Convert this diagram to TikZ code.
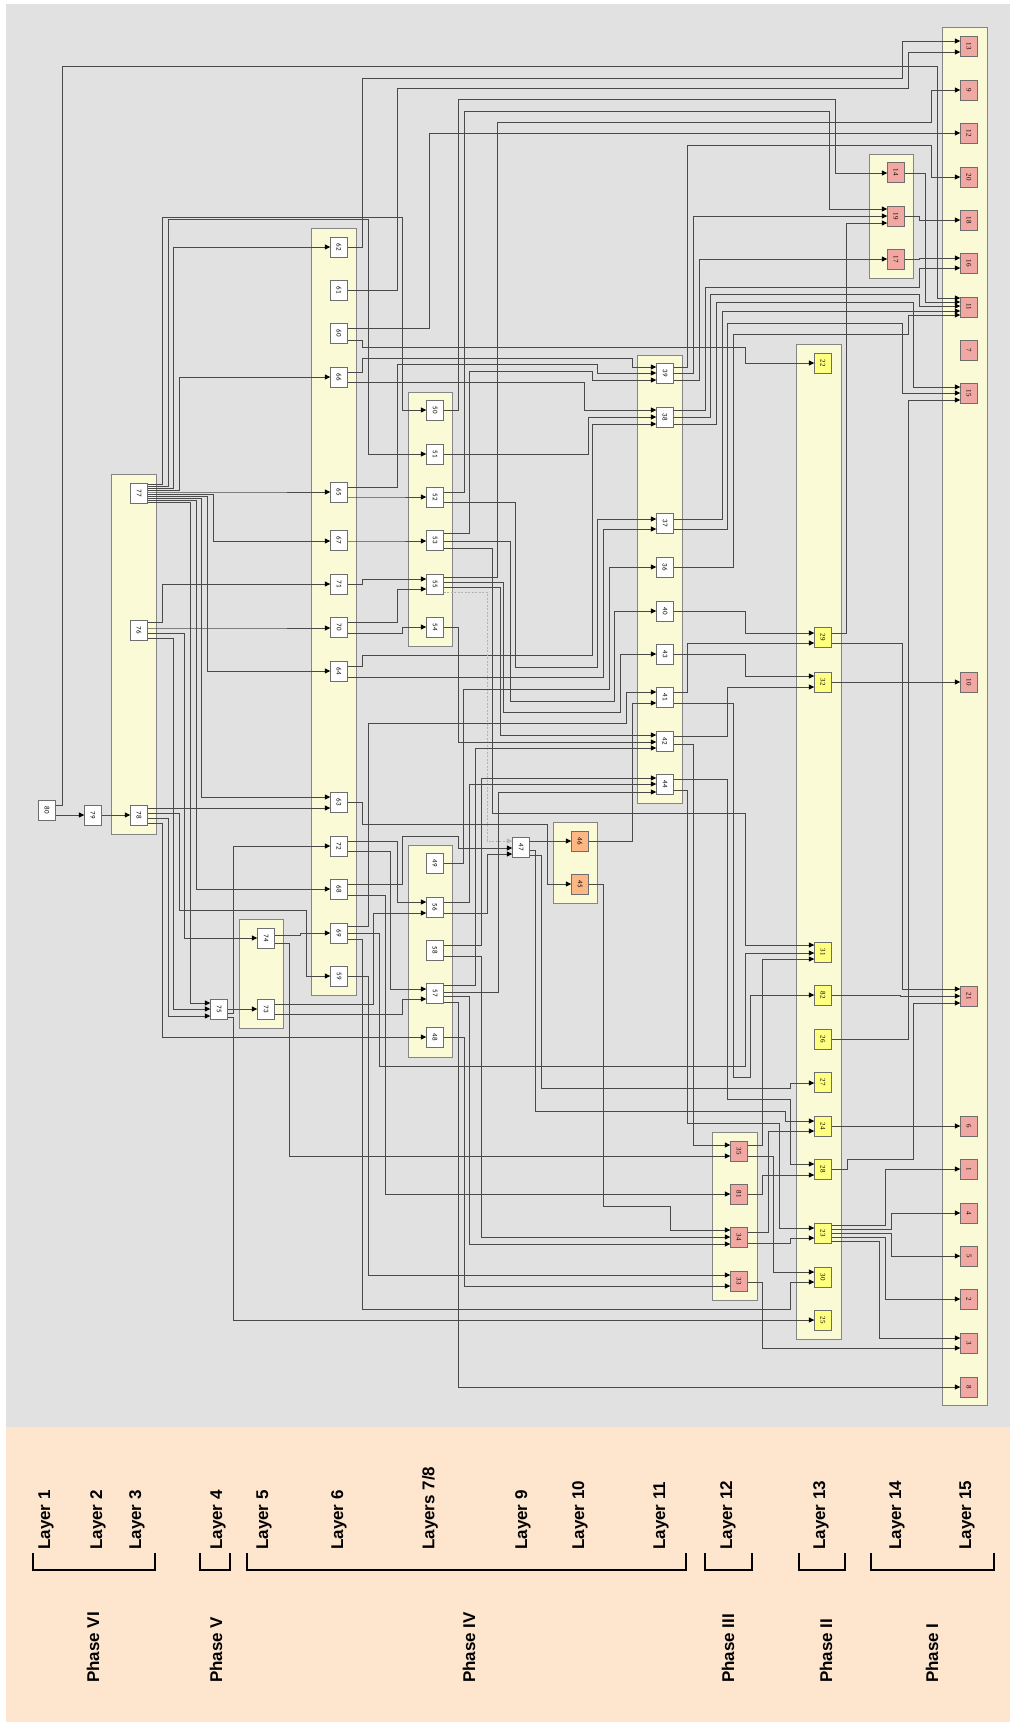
\documentclass[tikz,border=0pt]{standalone}
\usepackage{graphicx}
\usepackage{fontspec}
\setmainfont{Liberation Sans}
\newfontfamily\nodesans{Carlito}
\newfontfamily\nodeserif{Liberation Serif}
\usetikzlibrary{arrows.meta, calc, backgrounds}

\definecolor{canvasgray}{HTML}{E1E1E1}
\definecolor{legendpeach}{HTML}{FDE5CE}
\definecolor{layerfill}{HTML}{FAFAD7}
\definecolor{layerline}{HTML}{858585}
\definecolor{nodeline}{HTML}{6E6E6E}
\definecolor{pinkfill}{HTML}{F2A8A2}
\definecolor{yellowfill}{HTML}{FFFF80}
\definecolor{orangefill}{HTML}{FDB784}
\definecolor{wiregray}{HTML}{4A4A4A}
\definecolor{dashgray}{HTML}{B4B4AA}

% orthogonal connector: [opts]{from}{to}{y out}{y in}{x of the vertical run}
\newcommand\wire[6][]{%
  \draw[wire,#1] let \p1=(#2.east), \p2=(#3.west) in
    (\x1,-#4pt) -- (#6pt,-#4pt) -- (#6pt,-#5pt) -- (\x2,-#5pt);}
% connector with two vertical runs: [opts]{from}{to}{y out}{y in}{x1}{y mid}{x2}
\newcommand\wirex[8][]{%
  \draw[wire,#1] let \p1=(#2.east), \p2=(#3.west) in
    (\x1,-#4pt) -- (#6pt,-#4pt) -- (#6pt,-#7pt) -- (#8pt,-#7pt) -- (#8pt,-#5pt) -- (\x2,-#5pt);}

\begin{document}
\begin{tikzpicture}[x=1pt, y=-1pt,
    wnode/.style={draw=nodeline, fill=white, minimum width=17pt, minimum height=20pt, inner sep=0pt, font=\nodesans\fontsize{7}{7}\selectfont},
    pnode/.style={wnode, fill=pinkfill, font=\nodeserif\fontsize{7}{7}\selectfont},
    ynode/.style={pnode, fill=yellowfill},
    onode/.style={wnode, fill=orangefill},
    layerbox/.style={draw=layerline, fill=layerfill, line width=0.8pt},
    wire/.style={draw=wiregray, line width=0.8pt, -{Triangle[length=5.5pt, width=5pt, color=black]}},
    dashwire/.style={draw=dashgray, dash pattern=on 2pt off 1.5pt, -{Triangle[length=5.5pt, width=5pt, color=dashgray]}},
    layerlbl/.style={rotate=90, anchor=west, inner sep=0pt, font=\bfseries\fontsize{17}{17}\selectfont},
    phasebrk/.style={line width=2.6pt},
]
\useasboundingbox (0,0) rectangle (1010,1722);

\begin{scope}[on background layer]
\fill[white] (0,0) rectangle (1010,1722);
\fill[canvasgray] (6,4) rectangle (1010,1427);
\fill[legendpeach] (6,1427) rectangle (1010,1722);
% layer groups
\draw[layerbox] (111,474) rectangle (156,834);
\draw[layerbox] (239,919) rectangle (283,1028);
\draw[layerbox] (311,228) rectangle (356,995);
\draw[layerbox] (408,392) rectangle (452,646);
\draw[layerbox] (408,845) rectangle (452,1057);
\draw[layerbox] (553,822) rectangle (597,903);
\draw[layerbox] (637,355) rectangle (682,803);
\draw[layerbox] (712,1132) rectangle (757,1300);
\draw[layerbox] (796,344) rectangle (841,1339);
\draw[layerbox] (869,154) rectangle (913,278);
\draw[layerbox] (942,27) rectangle (987,1405);
\end{scope}

% nodes
\node[wnode] (n80) at (47,810) {\rotatebox{-90}{80}};
\node[wnode] (n79) at (93,815) {\rotatebox{-90}{79}};
\foreach \n/\y in {77/493, 76/630, 78/815}
  \node[wnode] (n\n) at (139,\y) {\rotatebox{-90}{\n}};
\node[wnode] (n75) at (219,1009) {\rotatebox{-90}{75}};
\node[wnode] (n74) at (266,938) {\rotatebox{-90}{74}};
\node[wnode] (n73) at (266,1009) {\rotatebox{-90}{73}};
\foreach \n/\y in {62/247, 61/290, 60/333, 66/377, 65/492, 67/540, 71/584, 70/627, 64/671, 63/802, 72/846, 68/889, 69/933, 59/976}
  \node[wnode] (n\n) at (339,\y) {\rotatebox{-90}{\n}};
\foreach \n/\y in {50/410, 51/454, 52/497, 53/540, 55/584, 54/627, 49/863, 56/907, 58/950, 57/993, 48/1037}
  \node[wnode] (n\n) at (435,\y) {\rotatebox{-90}{\n}};
\node[wnode] (n47) at (521,847) {\rotatebox{-90}{47}};
\node[onode] (n46) at (580,841) {\rotatebox{-90}{46}};
\node[onode] (n45) at (580,884) {\rotatebox{-90}{45}};
\foreach \n/\y in {39/373, 38/417, 37/523, 36/567, 40/611, 43/654, 41/697, 42/741, 44/784}
  \node[wnode] (n\n) at (665,\y) {\rotatebox{-90}{\n}};
\foreach \n/\y in {35/1151, 81/1194, 34/1237, 33/1281}
  \node[pnode] (n\n) at (739,\y) {\rotatebox{-90}{\n}};
\foreach \n/\y in {22/363, 29/637, 32/682, 31/952, 82/995, 26/1039, 27/1082, 24/1126, 28/1169, 23/1233, 30/1277, 25/1320}
  \node[ynode] (n\n) at (823,\y) {\rotatebox{-90}{\n}};
\foreach \n/\y in {14/172, 19/216, 17/259}
  \node[pnode] (n\n) at (896,\y) {\rotatebox{-90}{\n}};
\foreach \n/\y in {13/46, 9/90, 12/133, 20/177, 18/220, 16/263, 11/307, 7/350, 15/393, 10/682, 21/996, 6/1126, 1/1169, 4/1213, 5/1256, 2/1299, 3/1343, 8/1387}
  \node[pnode] (n\n) at (969,\y) {\rotatebox{-90}{\n}};

% layers 1-5
\wire{n80}{n79}{815}{815}{70}
\wire{n79}{n78}{815}{815}{115}
\wirex{n80}{n11}{805}{298}{62}{66}{937}
\wirex{n77}{n50}{484}{410}{162}{217}{402}
\wirex{n77}{n51}{486}{454}{168}{219}{368}
\wire{n77}{n62}{488}{247}{173}
\wire{n77}{n66}{490}{377}{179}
\wire{n77}{n65}{492}{492}{250}
\wire{n77}{n67}{494}{541}{213}
\wire{n77}{n64}{496}{671}{207}
\wire{n77}{n63}{498}{797}{201}
\wire{n77}{n68}{500}{889}{196}
\wire{n77}{n75}{502}{1003}{190}
\wire{n76}{n71}{622}{584}{162}
\wire{n76}{n70}{628}{628}{250}
\wire{n76}{n74}{633}{938}{184}
\wire{n76}{n75}{638}{1009}{173}
\wire{n78}{n63}{808}{808}{250}
\wirex{n78}{n59}{813}{976}{179}{910}{306}
\wire{n78}{n75}{818}{1016}{168}
\wire{n78}{n48}{823}{1037}{162}
\wire{n75}{n73}{1009}{1009}{240}
\wire{n75}{n72}{1013}{846}{233}
\wire{n75}{n25}{1017}{1320}{233}
\wire{n74}{n69}{935}{933}{300}
\wire{n74}{n35}{943}{1156}{289}
\wire{n73}{n56}{1004}{913}{373}
\wire{n73}{n57}{1014}{999}{402}

% layer 6
\wirex{n62}{n13}{247}{41}{362}{78}{902}
\wirex{n61}{n13}{290}{52}{397}{88}{908}
\wire{n60}{n12}{328}{133}{429}
\wirex{n60}{n22}{340}{363}{362}{347}{745}
\wirex{n66}{n39}{372}{367}{362}{358}{632}
\wire{n66}{n38}{382}{410}{584}
\wirex{n65}{n39}{487}{373}{397}{364}{597}
\wire{n65}{n52}{497}{497}{390}
\wire{n67}{n53}{541}{541}{390}
\wire{n71}{n55}{584}{579}{362}
\wire{n70}{n55}{622}{589}{397}
\wire{n70}{n54}{633}{627}{402}
\wirex{n64}{n38}{666}{424}{362}{655}{592}
\wire{n64}{n37}{677}{529}{603}
\wirex{n63}{n45}{802}{884}{362}{824}{547}
\wire{n72}{n56}{841}{902}{397}
\wire{n72}{n57}{851}{989}{390}
\wirex{n68}{n47}{884}{848}{402}{836}{458}
\wire{n68}{n81}{895}{1194}{385}
\wirex{n69}{n41}{926}{692}{368}{723}{626}
\wirex{n69}{n31}{933}{953}{379}{1066}{745}
\wirex{n69}{n30}{939}{1282}{362}{1309}{790}
\wire{n59}{n33}{976}{1275}{368}

% layers 7/8
\wirex{n50}{n14}{410}{173}{458}{99}{835}
\wire{n51}{n38}{454}{417}{588}
\wirex{n52}{n19}{492}{209}{464}{111}{829}
\wirex{n52}{n37}{502}{519}{515}{667}{597}
\wirex{n53}{n39}{533}{380}{469}{371}{592}
\wirex{n53}{n40}{541}{611}{510}{701}{614}
\wirex{n53}{n31}{548}{945}{492}{813}{745}
\wirex{n55}{n9}{577}{90}{497}{122}{931}
\wirex{n55}{n43}{582}{654}{503}{712}{620}
\wire{n55}{n42}{587}{735}{500}
\wire[dashwire]{n55}{n47}{592}{841}{487}
\wire{n54}{n42}{627}{742}{458}
\wirex{n49}{n36}{863}{567}{463}{689}{609}
\wire{n56}{n44}{902}{784}{469}
\wire{n56}{n47}{913}{854}{487}
\wire{n58}{n44}{945}{778}{481}
\wire{n58}{n34}{956}{1237}{481}
\wire{n57}{n42}{985}{748}{475}
\wire{n57}{n44}{992}{792}{498}
\wire{n57}{n34}{996}{1244}{469}
\wire{n57}{n8}{1002}{1387}{458}
\wire{n48}{n33}{1037}{1286}{464}

% layers 9/10
\wire{n47}{n46}{841}{841}{550}
\wirex{n47}{n24}{850}{1121}{535}{1111}{785}
\wirex{n47}{n27}{855}{1083}{541}{1088}{790}
\wire{n46}{n41}{841}{703}{632}
\wirex{n45}{n34}{884}{1230}{603}{1206}{670}

% layer 11
\wirex{n39}{n20}{367}{177}{687}{145}{931}
\wire{n39}{n19}{373}{216}{693}
\wire{n39}{n17}{380}{259}{699}
\wirex{n38}{n16}{410}{268}{705}{287}{919}
\wirex{n38}{n11}{417}{306}{710}{294}{919}
\wirex{n38}{n15}{424}{387}{716}{302}{913}
\wire{n37}{n11}{519}{311}{722}
\wirex{n37}{n15}{529}{393}{727}{323}{902}
\wirex{n36}{n11}{567}{315}{733}{334}{908}
\wire{n40}{n29}{611}{633}{745}
\wire{n43}{n32}{654}{676}{745}
\wire{n41}{n29}{692}{643}{687}
\wirex{n41}{n82}{703}{995}{733}{1077}{750}
\wire{n42}{n32}{736}{687}{727}
\wire{n42}{n35}{744}{1145}{693}
\wirex{n44}{n28}{779}{1164}{727}{1099}{790}
\wirex{n44}{n23}{790}{1228}{687}{1123}{779}

% layer 12
\wire{n35}{n31}{1145}{959}{762}
\wire{n35}{n30}{1156}{1272}{773}
\wire{n81}{n28}{1194}{1175}{762}
\wire{n34}{n24}{1232}{1131}{768}
\wire{n34}{n23}{1243}{1238}{790}
\wire{n33}{n3}{1282}{1348}{762}

% layer 13
\wire{n29}{n21}{643}{989}{902}
\wire{n29}{n19}{633}{223}{846}
\wire{n32}{n10}{682}{682}{900}
\wire{n82}{n21}{995}{996}{900}
\wire{n26}{n15}{1039}{400}{908}
\wire{n24}{n6}{1126}{1126}{900}
\wirex{n28}{n21}{1169}{1003}{847}{1159}{913}
\wire{n23}{n1}{1225}{1169}{885}
\wire{n23}{n4}{1229}{1213}{891}
\wire{n23}{n5}{1233}{1256}{891}
\wire{n23}{n2}{1237}{1299}{885}
\wire{n23}{n3}{1241}{1338}{879}

% layer 14
\wire{n14}{n11}{173}{302}{925}
\wire{n19}{n18}{216}{220}{919}
\wire{n17}{n16}{259}{258}{919}

% legend
\foreach \lx/\lt in {46/{Layer 1}, 98/{Layer 2}, 137/{Layer 3}, 218/{Layer 4}, 264/{Layer 5}, 339/{Layer 6}, 430/{Layers 7/8}, 523/{Layer 9}, 580/{Layer 10}, 661/{Layer 11}, 728/{Layer 12}, 821/{Layer 13}, 897/{Layer 14}, 967/{Layer 15}}
  \node[layerlbl] at (\lx,1550) {\lt};
\foreach \ba/\bb in {33/155, 200/230, 247/686, 705/752, 799/845, 871/994}
  \draw[phasebrk] (\ba,1553) -- (\ba,1570) -- (\bb,1570) -- (\bb,1553);
\foreach \px/\pt in {93/{Phase VI}, 216/{Phase V}, 469/{Phase IV}, 728/{Phase III}, 826/{Phase II}, 932/{Phase I}}
  \node[layerlbl] at (\px,1683) {\pt};
\end{tikzpicture}
\end{document}
